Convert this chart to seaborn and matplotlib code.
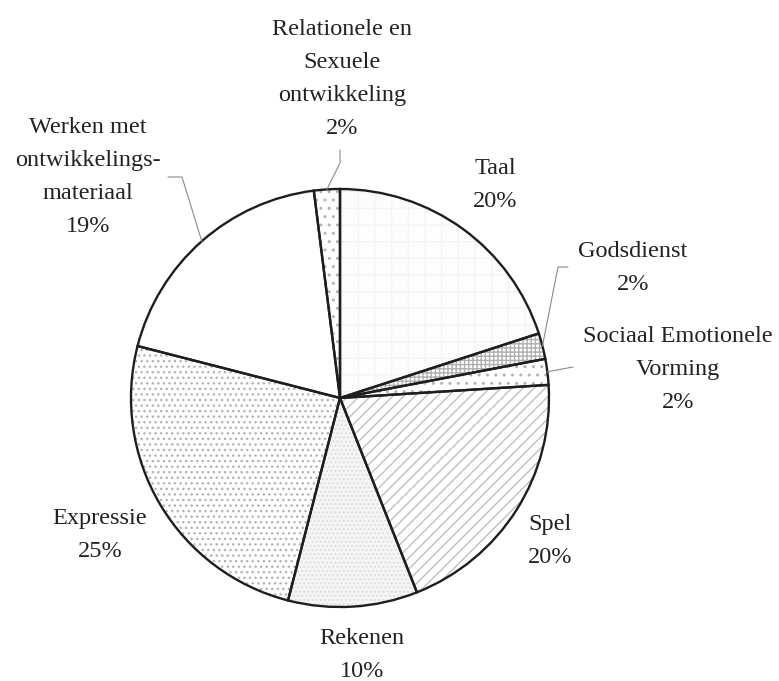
import matplotlib
matplotlib.use("Agg")
import matplotlib.pyplot as plt
import numpy as np
import seaborn as sns

# wedges clockwise from the top
categories = ["Taal", "Godsdienst", "Sociaal Emotionele\nVorming", "Spel", "Rekenen",
              "Expressie", "Werken met\nontwikkelings-\nmateriaal",
              "Relationele en\nSexuele\nontwikkeling"]
shares = [20, 2, 2, 20, 10, 25, 19, 2]

# fill styles (scanned grey patterns)
hatches = ["+", "++++", "..", "///", "....", "...", "", ".."]
face_colors = ["#fdfdfd", "white", "white", "white", "#f6f6f6", "white", "white", "white"]
hatch_colors = ["#f3f3f3", "#b0b0b0", "#b4b4b4", "#c0c0c0", "#dedede", "#b4b4b4", "white", "#b4b4b4"]

# label centres in pixels (layout)
label_px = [(495, 185), (633, 268), (678, 370), (550, 541), (362, 655),
            (100, 535), (88, 177), (342, 79)]
# leader lines: text end / elbow points in pixels (None = no leader)
leader_px = [None, [(568, 267), (558, 267)], [(573, 367)], None, None, None,
             [(168, 177), (182, 177)], [(340, 150), (340, 163)]]

W, H = 779, 681
CX, CY, R = 340, 398, 209


def px(p):
    return ((p[0] - CX) / R, (CY - p[1]) / R)


sns.set_theme(style="white")
plt.rcParams["font.family"] = ["Liberation Serif", "DejaVu Serif"]
plt.rcParams["hatch.linewidth"] = 1.0

fig = plt.figure(figsize=(W / 100, H / 100), dpi=100)
ax = fig.add_axes([0, 0, 1, 1])

# pattern layer
wedges, _ = ax.pie(shares, startangle=90, counterclock=False, radius=1,
                   wedgeprops=dict(linewidth=0))
for w, h, fc, hc in zip(wedges, hatches, face_colors, hatch_colors):
    w.set_facecolor(fc)
    w.set_edgecolor(hc)
    w.set_hatch(h)

# outline layer
ax.pie(shares, startangle=90, counterclock=False, radius=1,
       wedgeprops=dict(facecolor="none", edgecolor="#1e1e1e", linewidth=1.7))

for w, cat, val, lp, ld in zip(wedges, categories, shares, label_px, leader_px):
    x, y = px(lp)
    ax.text(x, y, f"{cat}\n{val}%", ha="center", va="center", fontsize=17.5,
            color="#222222", linespacing=1.75)
    if ld is not None:
        mid = np.deg2rad((w.theta1 + w.theta2) / 2)
        pts = [px(p) for p in ld] + [(np.cos(mid), np.sin(mid))]
        xs, ys = zip(*pts)
        ax.plot(xs, ys, color="#8a8a8a", linewidth=0.8)

ax.set_xlim(-CX / R, (W - CX) / R)
ax.set_ylim(-(H - CY) / R, CY / R)
ax.set_aspect("auto")
ax.axis("off")

fig.savefig("out.png", dpi=100, facecolor="white")
